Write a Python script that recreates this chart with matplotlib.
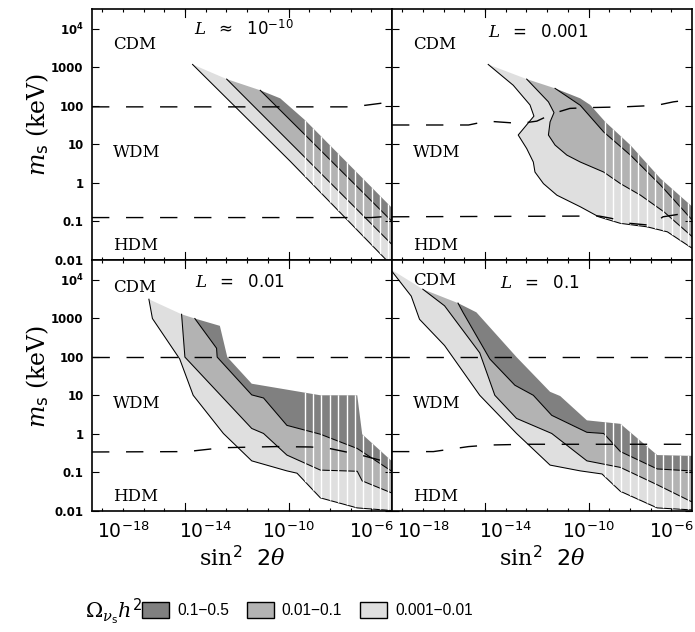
import numpy as np
import matplotlib.pyplot as plt
from matplotlib.patches import Patch, Polygon
from matplotlib.ticker import FixedLocator, NullLocator, NullFormatter

plt.rcParams['mathtext.fontset'] = 'custom'
plt.rcParams['mathtext.rm'] = 'DejaVu Sans'
plt.rcParams['mathtext.it'] = 'DejaVu Serif:italic'
plt.rcParams['mathtext.bf'] = 'DejaVu Sans:bold'
plt.rcParams['mathtext.sf'] = 'DejaVu Serif'

# legend bands (dark -> light)
band_labels = ['0.1\u22120.5', '0.01\u22120.1', '0.001\u22120.01']
band_colors = ['#808080', '#b3b3b3', '#dfdfdf']

# contours, (log10 sin^2 2theta, log10 m_s/keV); Omega h^2 = 0.001, 0.01, 0.1, 0.5
# L ~ 1e-10
tl_001 = ([-14.64, -9.92, -5.31, -4.5], [3.07, 0.56, -1.98, -2.43])
tl_01 = ([-12.99, -4.98, -4.5], [2.69, -1.61, -1.87])
tl_1 = ([-11.37, -4.98, -4.5], [2.40, -1.01, -1.27])
tl_5 = ([-10.40, -9.19, -4.98, -4.5], [2.19, 1.62, -0.66, -0.92])
tl_hi = ([-19.5, -7.2, -6.3, -5.0], [1.97, 1.97, 2.01, 2.10])
tl_lo = ([-19.5, -6.0, -5.0], [-0.90, -0.90, -0.86])

# L = 0.001
tr_001 = ([-14.85, -13.64, -12.83, -12.64, -13.40, -12.99, -12.67, -12.59, -12.18, -11.53,
           -10.40, -9.51, -8.46, -7.17, -6.19, -4.98, -4.5],
          [3.07, 2.53, 2.02, 1.73, 1.24, 0.89, 0.54, 0.28, -0.02, -0.32,
           -0.62, -0.88, -1.05, -1.14, -1.27, -1.70, -1.87])
tr_01 = ([-12.99, -11.94, -11.67, -11.86, -11.94, -11.62, -11.05, -10.40, -9.27, -8.46,
          -7.49, -6.36, -4.98, -4.5],
         [2.69, 2.10, 1.82, 1.58, 1.24, 0.98, 0.72, 0.54, 0.28, -0.02,
          -0.32, -0.75, -1.40, -1.63])
tr_1 = ([-11.62, -10.40, -9.27, -7.98, -6.52, -4.98, -4.5], [2.45, 2.01, 1.32, 0.72, -0.06, -0.97, -1.25])
tr_5 = ([-10.40, -9.92, -9.19, -7.98, -6.52, -4.98, -4.5], [2.19, 2.02, 1.58, 0.98, 0.11, -0.62, -0.85])
tr_hi = ([-19.5, -15.8, -14.9, -13.3, -12.5, -11.7, -10.9, -10.0, -8.3, -6.7, -5.9, -5.0],
         [1.50, 1.50, 1.60, 1.54, 1.60, 1.80, 1.93, 1.95, 1.97, 2.01, 2.10, 2.16])
tr_lo = ([-19.5, -9.5, -8.9, -8.0, -7.0, -6.4, -5.0], [-0.88, -0.86, -0.92, -1.05, -1.10, -0.88, -0.76])

# L = 0.01
bl_001 = ([-16.75, -16.58, -15.26, -14.61, -13.15, -11.78, -10.08, -9.59, -8.46, -6.68, -4.98, -4.5],
          [3.49, 2.99, 1.94, 1.00, 0.01, -0.70, -0.96, -1.02, -1.66, -1.92, -1.99, -2.02])
bl_01 = ([-15.17, -15.01, -11.78, -11.21, -10.08, -8.46, -6.68, -6.44, -4.98, -4.5],
         [3.10, 1.99, 0.14, 0.01, -0.55, -0.94, -0.97, -1.22, -1.54, -1.64])
bl_1 = ([-14.53, -13.48, -13.45, -11.78, -11.21, -10.08, -8.46, -6.68, -4.98, -4.5],
        [2.99, 2.22, 1.99, 1.01, 0.93, 0.22, -0.01, -0.38, -0.98, -1.15])
bl_5 = ([-13.32, -12.96, -11.78, -8.46, -6.68, -6.44, -4.98, -4.5],
        [2.80, 1.99, 1.30, 1.00, 1.00, -0.01, -0.72, -0.95])
bl_hi = ([-19.5, -5.0], [2.0, 2.0])
bl_lo = ([-19.5, -14.9, -13.2, -10.6, -8.95, -8.1, -7.3, -6.5, -5.6, -5.0],
         [-0.47, -0.46, -0.36, -0.33, -0.34, -0.37, -0.46, -0.55, -0.68, -0.75])

# L = 0.1
br_001 = ([-19.6, -18.57, -18.17, -16.96, -15.26, -13.48, -11.86, -10.40, -9.35, -8.46, -6.68, -5.06, -4.5],
          [4.28, 3.57, 2.97, 2.29, 1.00, 0.01, -0.81, -0.96, -1.04, -1.49, -1.92, -1.97, -2.0])
br_01 = ([-18.01, -16.96, -15.26, -14.53, -13.48, -11.78, -10.08, -8.46, -6.68, -5.06, -4.5],
         [3.75, 3.32, 2.10, 1.00, 0.40, 0.01, -0.70, -0.87, -1.32, -1.75, -1.85])
br_1 = ([-16.31, -16.07, -14.77, -13.56, -12.67, -11.78, -10.08, -9.27, -8.46, -6.68, -5.06, -4.5],
        [3.39, 3.15, 1.94, 1.26, 1.00, 0.48, 0.04, 0.01, -0.46, -0.91, -0.96, -0.97])
br_5 = ([-15.42, -13.48, -11.86, -11.37, -10.08, -8.46, -6.68, -5.06, -4.5],
        [3.15, 1.99, 1.09, 0.98, 0.35, 0.26, -0.55, -0.57, -0.57])
br_hi = ([-19.5, -5.0], [2.0, 2.0])
br_lo = ([-19.5, -17.5, -15.8, -14.8, -13.0, -5.0], [-0.46, -0.46, -0.33, -0.29, -0.27, -0.27])

# white raster stripes seen in the scanned figure (log10 x)
stripe_x = [-9.22, -8.81, -8.41, -8.0, -7.6, -7.19, -6.79, -6.38, -5.98, -5.57, -5.17]

panel_titles = [r'$L\ \ \approx\ \ 10^{-10}$', r'$L\ \ =\ \ 0.001$', r'$L\ \ =\ \ 0.01$', r'$L\ \ =\ \ 0.1$']
xtick_vals = [1e-18, 1e-14, 1e-10, 1e-6]
xtick_text = [r'$10^{-18}$', r'$10^{-14}$', r'$10^{-10}$', r'$10^{-6}$']
ytick_vals = [1e-2, 1e-1, 1, 10, 100, 1000, 1e4]
ytick_text = ['0.01', '0.1', '1', '10', '100', '1000', r'$\mathbf{10^4}$']


def draw_panel(ax, curves, dashed):
    xs = [10.0 ** np.array(c[0]) for c in curves]
    ys = [10.0 ** np.array(c[1]) for c in curves]
    # bands between successive contours: light, medium, dark
    for i in range(3):
        ax.fill(np.concatenate([xs[i], xs[i + 1][::-1]]),
                np.concatenate([ys[i], ys[i + 1][::-1]]),
                facecolor=band_colors[2 - i], edgecolor='none', zorder=1)
    # outline of the shaded area, clips the stripes
    ox = np.concatenate([xs[0], xs[3][::-1], [xs[2][0], xs[1][0]]])
    oy = np.concatenate([ys[0], ys[3][::-1], [ys[2][0], ys[1][0]]])
    outline = Polygon(np.column_stack([ox, oy]), closed=True, transform=ax.transData)
    for i in range(3):
        ax.plot(xs[i], ys[i], color='black', lw=0.75, zorder=2)
    st = ax.vlines(10.0 ** np.array(stripe_x), 1e-3, 1e5, colors='white', lw=1.0, zorder=2.2)
    st.set_clip_path(outline)
    for dx, dy in dashed:
        ax.plot(10.0 ** np.array(dx), 10.0 ** np.array(dy), color='black', lw=1.0,
                dashes=(12.5, 12), zorder=2.4)


fig = plt.figure(figsize=(6.95, 6.32), dpi=100)
col_x = [92 / 695, 392 / 695]
row_y = [1 - 260 / 632, 1 - 511 / 632]
w, h = 300 / 695, 251.5 / 632

panels = [
    (0, 0, [tl_001, tl_01, tl_1, tl_5], [tl_hi, tl_lo], 0.895, 0.505, 0.840),
    (0, 1, [tr_001, tr_01, tr_1, tr_5], [tr_hi, tr_lo], 0.886, 0.488, 0.840),
    (1, 0, [bl_001, bl_01, bl_1, bl_5], [bl_hi, bl_lo], 0.890, 0.493, 0.870),
    (1, 1, [br_001, br_01, br_1, br_5], [br_hi, br_lo], 0.887, 0.493, 0.900),
]

for k, (r, c, curves, dashed, ty, tx, cdm_y) in enumerate(panels):
    ax = fig.add_axes([col_x[c], row_y[r], w, h])
    ax.set_xscale('log')
    ax.set_yscale('log')
    ax.set_xlim(10 ** -19.5, 1e-5)
    ax.set_ylim(1e-2, 10 ** 4.52)
    draw_panel(ax, curves, dashed)

    ax.xaxis.set_major_locator(FixedLocator(xtick_vals))
    ax.xaxis.set_minor_locator(FixedLocator(10.0 ** np.arange(-19, -5)))
    ax.xaxis.set_minor_formatter(NullFormatter())
    ax.set_xticklabels(xtick_text)
    ax.yaxis.set_major_locator(FixedLocator(ytick_vals))
    ax.yaxis.set_minor_locator(NullLocator())
    ax.yaxis.set_minor_formatter(NullFormatter())
    ax.set_yticklabels(ytick_text, fontweight='bold', fontsize=8.5)
    ax.tick_params(which='both', direction='in', top=True, right=True, width=0.8)
    ax.tick_params(axis='x', which='both', length=2.5, labelsize=13.5, pad=7)
    ax.tick_params(axis='y', which='major', length=5, pad=6)
    ax.tick_params(labelbottom=(r == 1), labelleft=(c == 0))
    for v in [1e-15, 1e-10]:
        ax.axvline(v, 0, 0.032, color='black', lw=0.8)
        ax.axvline(v, 0.968, 1, color='black', lw=0.8)
    for sp in ax.spines.values():
        sp.set_linewidth(1.2)

    ax.text(tx, ty, panel_titles[k], transform=ax.transAxes, ha='center', va='baseline',
            fontsize=12, family='DejaVu Sans')
    for name, yy in [('CDM', cdm_y), ('WDM', 0.410), ('HDM', 0.038)]:
        ax.text(0.07, yy, name, transform=ax.transAxes, ha='left', va='baseline',
                fontsize=12, family='DejaVu Serif')

    if c == 0:
        ax.set_ylabel(r'$m_\mathrm{s}$ (keV)', fontsize=17, family='DejaVu Serif')
        ax.yaxis.set_label_coords(-0.137, 0.54 if r == 0 else 0.534)
    if r == 1:
        ax.set_xlabel(r'$\mathsf{sin}^2\ \ \mathit{2\theta}$', fontsize=16, family='DejaVu Serif')
        ax.xaxis.set_label_coords(0.5, -0.14)

handles = [Patch(facecolor=col, edgecolor='black', lw=1.0) for col in band_colors]
fig.legend(handles, band_labels, loc='center left', bbox_to_anchor=(142 / 695, 0.035),
           ncol=3, frameon=False, prop={'family': 'Liberation Sans', 'size': 11.2},
           handlelength=1.75, handleheight=1.2, handletextpad=0.5, columnspacing=1.15,
           borderpad=0, borderaxespad=0)
fig.text(85 / 695, 0.022, r'$\mathsf{\Omega}_{\nu_\mathrm{s}}\mathit{h}^2$:', fontsize=15,
         family='DejaVu Serif', ha='left', va='baseline')

fig.savefig('out.png', dpi=100)
